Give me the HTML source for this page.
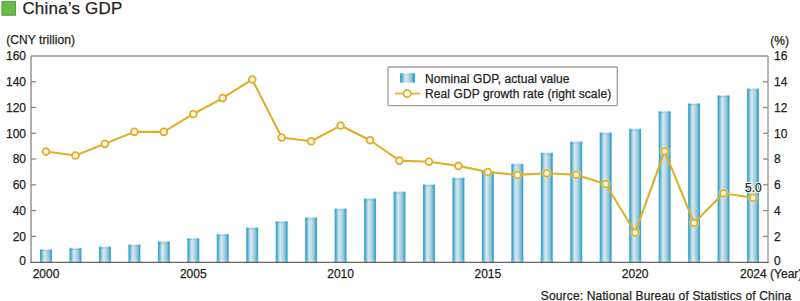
<!DOCTYPE html>
<html><head><meta charset="utf-8"><style>
html,body{margin:0;padding:0;background:#fff;}
svg{display:block;font-family:"Liberation Sans",sans-serif;}
text{fill:#231f20;font-size:12px;stroke:#231f20;stroke-width:0.25;}
.mk{fill:#fcf6e4;stroke:#dcb02a;stroke-width:1.8;}
</style></head><body>
<svg width="800" height="301" viewBox="0 0 800 301" >
<defs>
<linearGradient id="bg" x1="0" x2="1" y1="0" y2="0">
<stop offset="0" stop-color="#4aaccf"/>
<stop offset="0.1" stop-color="#3ea8cb"/>
<stop offset="0.2" stop-color="#86c3db"/>
<stop offset="0.3" stop-color="#bcdbe7"/>
<stop offset="0.38" stop-color="#d6e7ee"/>
<stop offset="0.46" stop-color="#cfe3eb"/>
<stop offset="0.56" stop-color="#b8d8e5"/>
<stop offset="0.7" stop-color="#9ccbde"/>
<stop offset="0.8" stop-color="#7cbdd7"/>
<stop offset="0.9" stop-color="#3ea6ca"/>
<stop offset="1" stop-color="#45a9cc"/>
</linearGradient>
<linearGradient id="bt" x1="0" x2="1" y1="0" y2="0">
<stop offset="0" stop-color="#2a9cc8"/>
<stop offset="0.15" stop-color="#3aa5cf"/>
<stop offset="0.4" stop-color="#9ccde0"/>
<stop offset="0.7" stop-color="#7cbfd8"/>
<stop offset="0.88" stop-color="#3aa5cf"/>
<stop offset="1" stop-color="#2a9cc8"/>
</linearGradient>
<linearGradient id="bb" x1="0" x2="1" y1="0" y2="0">
<stop offset="0" stop-color="#38b8e0"/>
<stop offset="0.2" stop-color="#8fd6ef"/>
<stop offset="0.45" stop-color="#d8f2fb"/>
<stop offset="0.8" stop-color="#90d4ec"/>
<stop offset="1" stop-color="#38b8e0"/>
</linearGradient>
</defs>
<rect x="1.95" y="1.65" width="13.6" height="13.6" fill="#6cb94c" stroke="#4ea436" stroke-width="1"/>
<text x="22.4" y="13.9" style="font-size:17px;letter-spacing:0.2px">China’s GDP</text>
<text x="6.2" y="44.4" style="letter-spacing:0.08px">(CNY trillion)</text>
<text x="770.3" y="44.6">(%)</text>
<text x="26" y="265.10" text-anchor="end">0</text><text x="26" y="240.64" text-anchor="end">20</text><text x="26" y="214.88" text-anchor="end">40</text><text x="26" y="189.11" text-anchor="end">60</text><text x="26" y="163.35" text-anchor="end">80</text><text x="26" y="137.59" text-anchor="end">100</text><text x="26" y="111.83" text-anchor="end">120</text><text x="26" y="86.06" text-anchor="end">140</text><text x="26" y="60.30" text-anchor="end">160</text>
<text x="774.1" y="265.10">0</text><text x="774.1" y="240.64">2</text><text x="774.1" y="214.88">4</text><text x="774.1" y="189.11">6</text><text x="774.1" y="163.35">8</text><text x="774.1" y="137.59">10</text><text x="774.1" y="111.83">12</text><text x="774.1" y="86.06">14</text><text x="774.1" y="60.30">16</text>
<rect x="40.00" y="249.18" width="12.0" height="12.92" fill="url(#bg)"/><rect x="40.00" y="249.18" width="12.0" height="0.9" fill="#fff" opacity="0.45"/><rect x="40.00" y="250.08" width="12.0" height="1.3" fill="url(#bt)" opacity="0.7"/><rect x="40.00" y="260.00" width="12.0" height="1" fill="url(#bb)"/><rect x="69.46" y="247.81" width="12.0" height="14.29" fill="url(#bg)"/><rect x="69.46" y="247.81" width="12.0" height="0.9" fill="#fff" opacity="0.45"/><rect x="69.46" y="248.71" width="12.0" height="1.3" fill="url(#bt)" opacity="0.7"/><rect x="69.46" y="260.00" width="12.0" height="1" fill="url(#bb)"/><rect x="98.92" y="246.42" width="12.0" height="15.68" fill="url(#bg)"/><rect x="98.92" y="246.42" width="12.0" height="0.9" fill="#fff" opacity="0.45"/><rect x="98.92" y="247.32" width="12.0" height="1.3" fill="url(#bt)" opacity="0.7"/><rect x="98.92" y="260.00" width="12.0" height="1" fill="url(#bb)"/><rect x="128.37" y="244.40" width="12.0" height="17.70" fill="url(#bg)"/><rect x="128.37" y="244.40" width="12.0" height="0.9" fill="#fff" opacity="0.45"/><rect x="128.37" y="245.30" width="12.0" height="1.3" fill="url(#bt)" opacity="0.7"/><rect x="128.37" y="260.00" width="12.0" height="1" fill="url(#bb)"/><rect x="157.83" y="241.26" width="12.0" height="20.84" fill="url(#bg)"/><rect x="157.83" y="241.26" width="12.0" height="0.9" fill="#fff" opacity="0.45"/><rect x="157.83" y="242.16" width="12.0" height="1.3" fill="url(#bt)" opacity="0.7"/><rect x="157.83" y="260.00" width="12.0" height="1" fill="url(#bb)"/><rect x="187.29" y="237.97" width="12.0" height="24.13" fill="url(#bg)"/><rect x="187.29" y="237.97" width="12.0" height="0.9" fill="#fff" opacity="0.45"/><rect x="187.29" y="238.87" width="12.0" height="1.3" fill="url(#bt)" opacity="0.7"/><rect x="187.29" y="260.00" width="12.0" height="1" fill="url(#bb)"/><rect x="216.75" y="233.84" width="12.0" height="28.26" fill="url(#bg)"/><rect x="216.75" y="233.84" width="12.0" height="0.9" fill="#fff" opacity="0.45"/><rect x="216.75" y="234.74" width="12.0" height="1.3" fill="url(#bt)" opacity="0.7"/><rect x="216.75" y="260.00" width="12.0" height="1" fill="url(#bb)"/><rect x="246.21" y="227.31" width="12.0" height="34.79" fill="url(#bg)"/><rect x="246.21" y="227.31" width="12.0" height="0.9" fill="#fff" opacity="0.45"/><rect x="246.21" y="228.21" width="12.0" height="1.3" fill="url(#bt)" opacity="0.7"/><rect x="246.21" y="260.00" width="12.0" height="1" fill="url(#bb)"/><rect x="275.66" y="220.98" width="12.0" height="41.12" fill="url(#bg)"/><rect x="275.66" y="220.98" width="12.0" height="0.9" fill="#fff" opacity="0.45"/><rect x="275.66" y="221.88" width="12.0" height="1.3" fill="url(#bt)" opacity="0.7"/><rect x="275.66" y="260.00" width="12.0" height="1" fill="url(#bb)"/><rect x="305.12" y="217.21" width="12.0" height="44.89" fill="url(#bg)"/><rect x="305.12" y="217.21" width="12.0" height="0.9" fill="#fff" opacity="0.45"/><rect x="305.12" y="218.11" width="12.0" height="1.3" fill="url(#bt)" opacity="0.7"/><rect x="305.12" y="260.00" width="12.0" height="1" fill="url(#bb)"/><rect x="334.58" y="208.39" width="12.0" height="53.71" fill="url(#bg)"/><rect x="334.58" y="208.39" width="12.0" height="0.9" fill="#fff" opacity="0.45"/><rect x="334.58" y="209.29" width="12.0" height="1.3" fill="url(#bt)" opacity="0.7"/><rect x="334.58" y="260.00" width="12.0" height="1" fill="url(#bb)"/><rect x="364.04" y="198.34" width="12.0" height="63.76" fill="url(#bg)"/><rect x="364.04" y="198.34" width="12.0" height="0.9" fill="#fff" opacity="0.45"/><rect x="364.04" y="199.24" width="12.0" height="1.3" fill="url(#bt)" opacity="0.7"/><rect x="364.04" y="260.00" width="12.0" height="1" fill="url(#bb)"/><rect x="393.50" y="191.51" width="12.0" height="70.59" fill="url(#bg)"/><rect x="393.50" y="191.51" width="12.0" height="0.9" fill="#fff" opacity="0.45"/><rect x="393.50" y="192.41" width="12.0" height="1.3" fill="url(#bt)" opacity="0.7"/><rect x="393.50" y="260.00" width="12.0" height="1" fill="url(#bb)"/><rect x="422.95" y="184.30" width="12.0" height="77.80" fill="url(#bg)"/><rect x="422.95" y="184.30" width="12.0" height="0.9" fill="#fff" opacity="0.45"/><rect x="422.95" y="185.20" width="12.0" height="1.3" fill="url(#bt)" opacity="0.7"/><rect x="422.95" y="260.00" width="12.0" height="1" fill="url(#bb)"/><rect x="452.41" y="177.60" width="12.0" height="84.50" fill="url(#bg)"/><rect x="452.41" y="177.60" width="12.0" height="0.9" fill="#fff" opacity="0.45"/><rect x="452.41" y="178.50" width="12.0" height="1.3" fill="url(#bt)" opacity="0.7"/><rect x="452.41" y="260.00" width="12.0" height="1" fill="url(#bb)"/><rect x="481.87" y="170.90" width="12.0" height="91.20" fill="url(#bg)"/><rect x="481.87" y="170.90" width="12.0" height="0.9" fill="#fff" opacity="0.45"/><rect x="481.87" y="171.80" width="12.0" height="1.3" fill="url(#bt)" opacity="0.7"/><rect x="481.87" y="260.00" width="12.0" height="1" fill="url(#bb)"/><rect x="511.33" y="163.69" width="12.0" height="98.41" fill="url(#bg)"/><rect x="511.33" y="163.69" width="12.0" height="0.9" fill="#fff" opacity="0.45"/><rect x="511.33" y="164.59" width="12.0" height="1.3" fill="url(#bt)" opacity="0.7"/><rect x="511.33" y="260.00" width="12.0" height="1" fill="url(#bb)"/><rect x="540.79" y="152.61" width="12.0" height="109.49" fill="url(#bg)"/><rect x="540.79" y="152.61" width="12.0" height="0.9" fill="#fff" opacity="0.45"/><rect x="540.79" y="153.51" width="12.0" height="1.3" fill="url(#bt)" opacity="0.7"/><rect x="540.79" y="260.00" width="12.0" height="1" fill="url(#bb)"/><rect x="570.24" y="141.40" width="12.0" height="120.70" fill="url(#bg)"/><rect x="570.24" y="141.40" width="12.0" height="0.9" fill="#fff" opacity="0.45"/><rect x="570.24" y="142.30" width="12.0" height="1.3" fill="url(#bt)" opacity="0.7"/><rect x="570.24" y="260.00" width="12.0" height="1" fill="url(#bb)"/><rect x="599.70" y="132.39" width="12.0" height="129.71" fill="url(#bg)"/><rect x="599.70" y="132.39" width="12.0" height="0.9" fill="#fff" opacity="0.45"/><rect x="599.70" y="133.29" width="12.0" height="1.3" fill="url(#bt)" opacity="0.7"/><rect x="599.70" y="260.00" width="12.0" height="1" fill="url(#bb)"/><rect x="629.16" y="128.65" width="12.0" height="133.45" fill="url(#bg)"/><rect x="629.16" y="128.65" width="12.0" height="0.9" fill="#fff" opacity="0.45"/><rect x="629.16" y="129.55" width="12.0" height="1.3" fill="url(#bt)" opacity="0.7"/><rect x="629.16" y="260.00" width="12.0" height="1" fill="url(#bb)"/><rect x="658.62" y="110.94" width="12.0" height="151.16" fill="url(#bg)"/><rect x="658.62" y="110.94" width="12.0" height="0.9" fill="#fff" opacity="0.45"/><rect x="658.62" y="111.84" width="12.0" height="1.3" fill="url(#bt)" opacity="0.7"/><rect x="658.62" y="260.00" width="12.0" height="1" fill="url(#bb)"/><rect x="688.08" y="103.08" width="12.0" height="159.02" fill="url(#bg)"/><rect x="688.08" y="103.08" width="12.0" height="0.9" fill="#fff" opacity="0.45"/><rect x="688.08" y="103.98" width="12.0" height="1.3" fill="url(#bt)" opacity="0.7"/><rect x="688.08" y="260.00" width="12.0" height="1" fill="url(#bb)"/><rect x="717.53" y="95.09" width="12.0" height="167.01" fill="url(#bg)"/><rect x="717.53" y="95.09" width="12.0" height="0.9" fill="#fff" opacity="0.45"/><rect x="717.53" y="95.99" width="12.0" height="1.3" fill="url(#bt)" opacity="0.7"/><rect x="717.53" y="260.00" width="12.0" height="1" fill="url(#bb)"/><rect x="746.99" y="88.40" width="12.0" height="173.70" fill="url(#bg)"/><rect x="746.99" y="88.40" width="12.0" height="0.9" fill="#fff" opacity="0.45"/><rect x="746.99" y="89.30" width="12.0" height="1.3" fill="url(#bt)" opacity="0.7"/><rect x="746.99" y="260.00" width="12.0" height="1" fill="url(#bb)"/>
<g fill="none">
<path d="M31.05,262 V56" stroke="#9a9595" stroke-width="1.5"/>
<path d="M31,56 H768" stroke="#918b8b" stroke-width="1.3"/>
<path d="M768,56 V262" stroke="#aaa5a5" stroke-width="1.6"/>
<g stroke="#8e8888" stroke-width="1.3">
<line x1="31" y1="236.34" x2="36" y2="236.34"/><line x1="31" y1="210.58" x2="36" y2="210.58"/><line x1="31" y1="184.81" x2="36" y2="184.81"/><line x1="31" y1="159.05" x2="36" y2="159.05"/><line x1="31" y1="133.29" x2="36" y2="133.29"/><line x1="31" y1="107.53" x2="36" y2="107.53"/><line x1="31" y1="81.76" x2="36" y2="81.76"/>
<line x1="763" y1="236.34" x2="768" y2="236.34"/><line x1="763" y1="210.58" x2="768" y2="210.58"/><line x1="763" y1="184.81" x2="768" y2="184.81"/><line x1="763" y1="159.05" x2="768" y2="159.05"/><line x1="763" y1="133.29" x2="768" y2="133.29"/><line x1="763" y1="107.53" x2="768" y2="107.53"/><line x1="763" y1="81.76" x2="768" y2="81.76"/>
</g>
</g>
<line x1="30.3" y1="262.3" x2="768.8" y2="262.3" stroke="#6a6262" stroke-width="1.3"/>
<circle cx="46.00" cy="151.58" r="4.3" fill="none" stroke="#fff" stroke-width="1.4" opacity="0.45"/><circle cx="75.46" cy="155.57" r="4.3" fill="none" stroke="#fff" stroke-width="1.4" opacity="0.45"/><circle cx="104.92" cy="143.85" r="4.3" fill="none" stroke="#fff" stroke-width="1.4" opacity="0.45"/><circle cx="134.37" cy="131.87" r="4.3" fill="none" stroke="#fff" stroke-width="1.4" opacity="0.45"/><circle cx="163.83" cy="131.87" r="4.3" fill="none" stroke="#fff" stroke-width="1.4" opacity="0.45"/><circle cx="193.29" cy="113.97" r="4.3" fill="none" stroke="#fff" stroke-width="1.4" opacity="0.45"/><circle cx="222.75" cy="98.12" r="4.3" fill="none" stroke="#fff" stroke-width="1.4" opacity="0.45"/><circle cx="252.21" cy="79.44" r="4.3" fill="none" stroke="#fff" stroke-width="1.4" opacity="0.45"/><circle cx="281.66" cy="137.54" r="4.3" fill="none" stroke="#fff" stroke-width="1.4" opacity="0.45"/><circle cx="311.12" cy="141.27" r="4.3" fill="none" stroke="#fff" stroke-width="1.4" opacity="0.45"/><circle cx="340.58" cy="125.56" r="4.3" fill="none" stroke="#fff" stroke-width="1.4" opacity="0.45"/><circle cx="370.04" cy="140.24" r="4.3" fill="none" stroke="#fff" stroke-width="1.4" opacity="0.45"/><circle cx="399.50" cy="160.60" r="4.3" fill="none" stroke="#fff" stroke-width="1.4" opacity="0.45"/><circle cx="428.95" cy="161.76" r="4.3" fill="none" stroke="#fff" stroke-width="1.4" opacity="0.45"/><circle cx="458.41" cy="165.88" r="4.3" fill="none" stroke="#fff" stroke-width="1.4" opacity="0.45"/><circle cx="487.87" cy="171.93" r="4.3" fill="none" stroke="#fff" stroke-width="1.4" opacity="0.45"/><circle cx="517.33" cy="174.89" r="4.3" fill="none" stroke="#fff" stroke-width="1.4" opacity="0.45"/><circle cx="546.79" cy="173.22" r="4.3" fill="none" stroke="#fff" stroke-width="1.4" opacity="0.45"/><circle cx="576.24" cy="174.77" r="4.3" fill="none" stroke="#fff" stroke-width="1.4" opacity="0.45"/><circle cx="605.70" cy="184.04" r="4.3" fill="none" stroke="#fff" stroke-width="1.4" opacity="0.45"/><circle cx="635.16" cy="232.47" r="4.3" fill="none" stroke="#fff" stroke-width="1.4" opacity="0.45"/><circle cx="664.62" cy="151.32" r="4.3" fill="none" stroke="#fff" stroke-width="1.4" opacity="0.45"/><circle cx="694.08" cy="222.94" r="4.3" fill="none" stroke="#fff" stroke-width="1.4" opacity="0.45"/><circle cx="723.53" cy="193.19" r="4.3" fill="none" stroke="#fff" stroke-width="1.4" opacity="0.45"/><circle cx="752.99" cy="197.69" r="4.3" fill="none" stroke="#fff" stroke-width="1.4" opacity="0.45"/>
<polyline points="46.00,151.58 75.46,155.57 104.92,143.85 134.37,131.87 163.83,131.87 193.29,113.97 222.75,98.12 252.21,79.44 281.66,137.54 311.12,141.27 340.58,125.56 370.04,140.24 399.50,160.60 428.95,161.76 458.41,165.88 487.87,171.93 517.33,174.89 546.79,173.22 576.24,174.77 605.70,184.04 635.16,232.47 664.62,151.32 694.08,222.94 723.53,193.19 752.99,197.69" fill="none" stroke="#dcb02a" stroke-width="2.1" stroke-linejoin="round"/>
<circle cx="46.00" cy="151.58" r="3.4" class="mk"/><circle cx="75.46" cy="155.57" r="3.4" class="mk"/><circle cx="104.92" cy="143.85" r="3.4" class="mk"/><circle cx="134.37" cy="131.87" r="3.4" class="mk"/><circle cx="163.83" cy="131.87" r="3.4" class="mk"/><circle cx="193.29" cy="113.97" r="3.4" class="mk"/><circle cx="222.75" cy="98.12" r="3.4" class="mk"/><circle cx="252.21" cy="79.44" r="3.4" class="mk"/><circle cx="281.66" cy="137.54" r="3.4" class="mk"/><circle cx="311.12" cy="141.27" r="3.4" class="mk"/><circle cx="340.58" cy="125.56" r="3.4" class="mk"/><circle cx="370.04" cy="140.24" r="3.4" class="mk"/><circle cx="399.50" cy="160.60" r="3.4" class="mk"/><circle cx="428.95" cy="161.76" r="3.4" class="mk"/><circle cx="458.41" cy="165.88" r="3.4" class="mk"/><circle cx="487.87" cy="171.93" r="3.4" class="mk"/><circle cx="517.33" cy="174.89" r="3.4" class="mk"/><circle cx="546.79" cy="173.22" r="3.4" class="mk"/><circle cx="576.24" cy="174.77" r="3.4" class="mk"/><circle cx="605.70" cy="184.04" r="3.4" class="mk"/><circle cx="635.16" cy="232.47" r="3.4" class="mk"/><circle cx="664.62" cy="151.32" r="3.4" class="mk"/><circle cx="694.08" cy="222.94" r="3.4" class="mk"/><circle cx="723.53" cy="193.19" r="3.4" class="mk"/><circle cx="752.99" cy="197.69" r="3.4" class="mk"/>
<text x="745" y="191.9" style="stroke:#fff;stroke-width:2.1;stroke-linejoin:round">5.0</text>
<text x="745" y="191.9">5.0</text>
<rect x="388" y="67" width="229.3" height="38.7" rx="1" fill="#fff" stroke="#a29d9d" stroke-width="1.3"/>
<rect x="400" y="73.2" width="15" height="9.5" fill="url(#bg)"/>
<line x1="395" y1="93.5" x2="420" y2="93.5" stroke="#dcb02a" stroke-width="1.7"/>
<circle cx="407.1" cy="93.5" r="3.65" class="mk" style="stroke-width:1.6"/>
<text x="425" y="83.4" style="letter-spacing:0.08px">Nominal GDP, actual value</text>
<text x="425" y="98.4" style="letter-spacing:0.09px">Real GDP growth rate (right scale)</text>
<text x="740" y="278.2">2024</text>
<text x="770.1" y="278.2">(Year)</text>
<text x="540.8" y="299.9" style="letter-spacing:0.155px">Source: National Bureau of Statistics of China</text>
<text x="46.00" y="278.2" text-anchor="middle">2000</text>
<text x="193.29" y="278.2" text-anchor="middle">2005</text>
<text x="340.58" y="278.2" text-anchor="middle">2010</text>
<text x="487.87" y="278.2" text-anchor="middle">2015</text>
<text x="635.16" y="278.2" text-anchor="middle">2020</text>
</svg>
</body></html>
